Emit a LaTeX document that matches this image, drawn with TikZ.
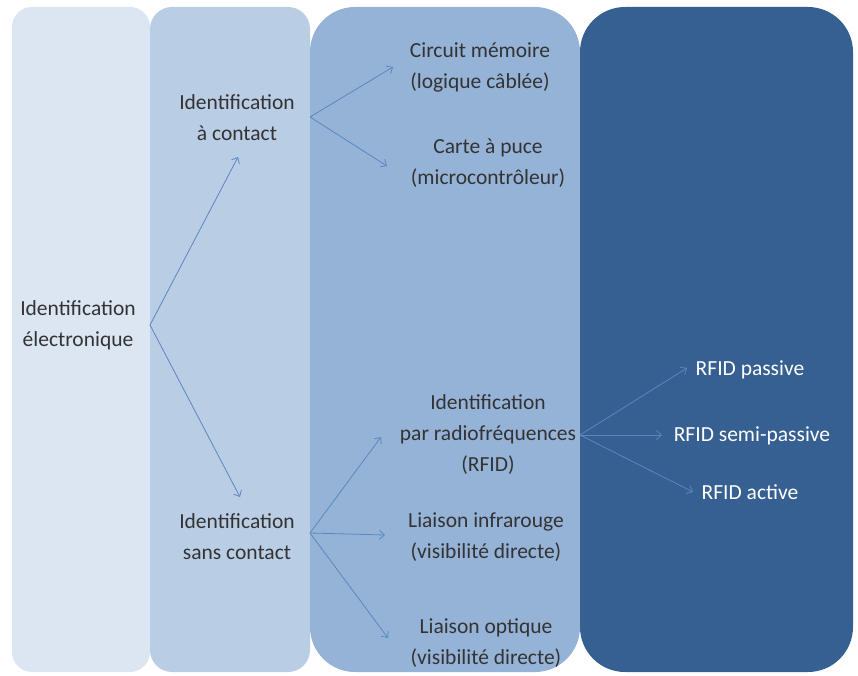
\documentclass[tikz,border=0pt]{standalone}
\usepackage{fontspec}
\setmainfont{Carlito}
\usetikzlibrary{arrows.meta}
\definecolor{colA}{HTML}{DCE6F2}
\definecolor{colB}{HTML}{B9CDE5}
\definecolor{colC}{HTML}{95B3D7}
\definecolor{colD}{HTML}{366092}
\definecolor{link}{HTML}{5B87C0}
\definecolor{ink}{HTML}{333333}
\begin{document}
\begin{tikzpicture}[x=1pt,y=-1pt,
  label/.style={align=center,text=ink,font=\fontsize{21.5}{31}\selectfont,inner sep=0pt},
  darklabel/.style={label,text=white},
  arr/.style={draw=link,line width=0.8pt,-{Straight Barb[length=5pt,width=9pt,line width=0.8pt]}}]
\useasboundingbox (0,0) rectangle (858,676);
% the four stages as rounded columns
\fill[colA, rounded corners=20] (12,7) rectangle (150,672);
\fill[colB, rounded corners=22] (150,7) rectangle (310,672);
\fill[colC, rounded corners=45] (310,7) rectangle (580,672);
\fill[colD, rounded corners=45] (580,7) rectangle (853,672);
% labels
\node[label] (elec) at (78,325) {Identification\\électronique};
\node[label] (ac) at (237,118) {Identification\\à contact};
\node[label] (sc) at (237,537) {Identification\\sans contact};
\node[label] (cm) at (480,67) {Circuit mémoire\\(logique câblée)};
\node[label] (cp) at (488,163) {Carte à puce\\(microcontrôleur)};
\node[label] (rf) at (488,435) {Identification\\par radiofréquences\\(RFID)};
\node[label] (li) at (486,537) {Liaison infrarouge\\(visibilité directe)};
\node[label] (lo) at (486,643) {Liaison optique\\(visibilité directe)};
\node[darklabel] (rp) at (750,370) {RFID passive};
\node[darklabel] (rs) at (752,436) {RFID semi-passive};
\node[darklabel] (ra) at (750,492) {RFID active};
% branching points and arrow ends
\coordinate (hubE) at (150,325);
\coordinate (hubA) at (310,117);
\coordinate (hubS) at (310,533);
\coordinate (hubR) at (580,435);
\coordinate (acIn) at (238,157);
\coordinate (scIn) at (240,497);
\coordinate (cmIn) at (393,67);
\coordinate (cpIn) at (387,166);
\coordinate (rfIn) at (381,437);
\coordinate (liIn) at (385,535);
\coordinate (loIn) at (388,638);
\coordinate (rpIn) at (687,368);
\coordinate (rsIn) at (662,435);
\coordinate (raIn) at (693,492);
% connectors
\draw[arr] (hubE) -- (acIn);
\draw[arr] (hubE) -- (scIn);
\draw[arr] (hubA) -- (cmIn);
\draw[arr] (hubA) -- (cpIn);
\draw[arr] (hubS) -- (rfIn);
\draw[arr] (hubS) -- (liIn);
\draw[arr] (hubS) -- (loIn);
\draw[arr] (hubR) -- (rpIn);
\draw[arr] (hubR) -- (rsIn);
\draw[arr] (hubR) -- (raIn);
\end{tikzpicture}
\end{document}
